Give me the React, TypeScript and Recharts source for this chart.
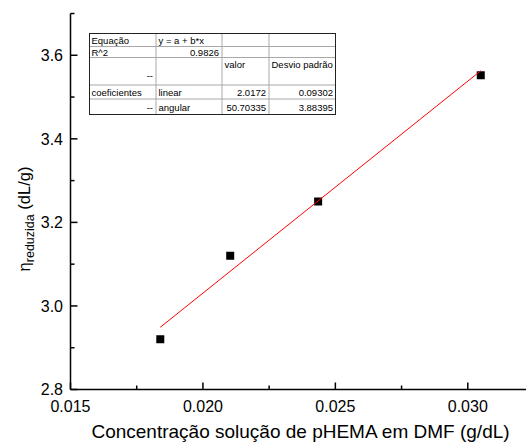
import React from 'react';
import { ComposedChart, Scatter, XAxis, YAxis, ZAxis } from 'recharts';

// dados
const concentracao = [0.01839, 0.02103, 0.02435, 0.03049];
const etaReduzida = [2.92, 3.12, 3.25, 3.552];
const ajusteX = [0.01839, 0.03049];
const ajusteY = [2.949, 3.563];
const xTicks = [0.015, 0.0175, 0.02, 0.0225, 0.025, 0.0275, 0.03];
const yTicks = [2.8, 2.9, 3.0, 3.1, 3.2, 3.3, 3.4, 3.5, 3.6, 3.7];
const tabelaLinhas = [
  ['Equação', 'y = a + b*x', '', ''],
  ['R^2', '0.9826', '', ''],
  ['--', '', 'valor', 'Desvio padrão'],
  ['coeficientes', 'linear', '2.0172', '0.09302'],
  ['--', 'angular', '50.70335', '3.88395'],
];

const FONT = '"Liberation Sans", Arial, Helvetica, sans-serif';
const PLOT_LEFT = 70.5;
const PLOT_BOTTOM = 389.5;

const pontos = concentracao.map((x, i) => ({ x, y: etaReduzida[i] }));
const ajuste = ajusteX.map((x, i) => ({ x, y: ajusteY[i] }));

const XTick = (props: any) => {
  const { x, payload } = props;
  const v = payload.value;
  const major = Math.round(v * 1000) % 5 === 0;
  return (
    <g>
      <line x1={x} x2={x} y1={PLOT_BOTTOM} y2={PLOT_BOTTOM - (major ? 7 : 4)} stroke="#000" strokeWidth={1.5} />
      {major && (
        <text x={x} y={411.5} textAnchor="middle" fontSize={16} fill="#000" fontFamily={FONT}>
          {v.toFixed(3)}
        </text>
      )}
    </g>
  );
};

const YTick = (props: any) => {
  const { y, payload } = props;
  const v = payload.value;
  const major = Math.round(v * 10) % 2 === 0;
  return (
    <g>
      <line x1={PLOT_LEFT} x2={PLOT_LEFT + (major ? 7 : 4)} y1={y} y2={y} stroke="#000" strokeWidth={1.5} />
      {major && (
        <text x={63} y={y + 5.7} textAnchor="end" fontSize={16} fill="#000" fontFamily={FONT}>
          {v.toFixed(1)}
        </text>
      )}
    </g>
  );
};

const XTitle = () => (
  <text x={300.5} y={438} textAnchor="middle" fontSize={19} fill="#000" fontFamily={FONT}>
    Concentração solução de pHEMA em DMF (g/dL)
  </text>
);

const YTitle = () => (
  <text transform="translate(30,219) rotate(-90)" textAnchor="middle" fontSize={16.5} fill="#000" fontFamily={FONT}>
    <tspan>η</tspan>
    <tspan fontSize={12.5} dy={4}>reduzida</tspan>
    <tspan dy={-4}> (dL/g)</tspan>
  </text>
);

const colX = [89, 156, 222, 269, 336];
const rowY = [33, 46.5, 57.5, 85, 99, 115];
const baseY = [43.5, 55.5, 68, 95.5, 110.5];

const Tabela = () => (
  <svg width={526} height={443} style={{ position: 'absolute', left: 0, top: 0, pointerEvents: 'none' }}>
    <rect x={colX[0]} y={rowY[0]} width={colX[4] - colX[0]} height={rowY[5] - rowY[0]} fill="#fff" />
    {rowY.slice(1, 5).map((y) => (
      <line key={'r' + y} x1={colX[0]} x2={colX[4]} y1={y} y2={y} stroke="#a8a8a8" strokeWidth={1} />
    ))}
    {colX.slice(1, 4).map((x) => (
      <line key={'c' + x} x1={x} x2={x} y1={rowY[0]} y2={rowY[5]} stroke="#a8a8a8" strokeWidth={1} />
    ))}
    <rect
      x={colX[0] + 0.5}
      y={rowY[0] + 0.5}
      width={colX[4] - colX[0] - 1}
      height={rowY[5] - rowY[0] - 1}
      fill="none"
      stroke="#222"
      strokeWidth={1}
    />
    {tabelaLinhas.map((linha, r) =>
      linha.map((s, c) => {
        if (!s) return null;
        const right = s === '--' || !isNaN(Number(s));
        const y = r === 2 && c === 0 ? 79 : baseY[r];
        return (
          <text
            key={r + '-' + c}
            x={right ? colX[c + 1] - 3 : colX[c] + 2.5}
            y={y}
            textAnchor={right ? 'end' : 'start'}
            fontSize={9.5}
            fill="#000"
            fontFamily={FONT}
          >
            {s}
          </text>
        );
      })
    )}
  </svg>
);

export default function App() {
  return (
    <div
      style={{
        position: 'fixed',
        left: 0,
        top: 0,
        width: 526,
        height: 443,
        overflow: 'hidden',
        background: '#fff',
        fontFamily: FONT,
      }}
    >
      <ComposedChart width={534} height={443} margin={{ top: 13.5, right: 0, bottom: 0, left: 0 }}>
        <XAxis
          dataKey="x"
          type="number"
          domain={[0.015, 0.0325]}
          ticks={xTicks}
          interval={0}
          allowDataOverflow
          height={53.5}
          tickLine={false}
          axisLine={{ stroke: '#000', strokeWidth: 1.5 }}
          tick={<XTick />}
          label={{ content: <XTitle /> }}
        />
        <XAxis
          xAxisId="top"
          orientation="top"
          type="number"
          domain={[0.015, 0.0325]}
          height={0}
          tick={false}
          tickLine={false}
          axisLine={{ stroke: '#000', strokeWidth: 1.5 }}
        />
        <YAxis
          dataKey="y"
          type="number"
          domain={[2.8, 3.7]}
          ticks={yTicks}
          interval={0}
          allowDataOverflow
          width={PLOT_LEFT}
          tickLine={false}
          axisLine={{ stroke: '#000', strokeWidth: 1.5 }}
          tick={<YTick />}
          label={{ content: <YTitle /> }}
        />
        <ZAxis range={[64, 64]} />
        <Scatter data={pontos} fill="#000" shape="square" isAnimationActive={false} />
        <Scatter
          data={ajuste}
          line={{ stroke: '#ff0000', strokeWidth: 1 }}
          shape={() => <g />}
          isAnimationActive={false}
        />
      </ComposedChart>
      <Tabela />
    </div>
  );
}
